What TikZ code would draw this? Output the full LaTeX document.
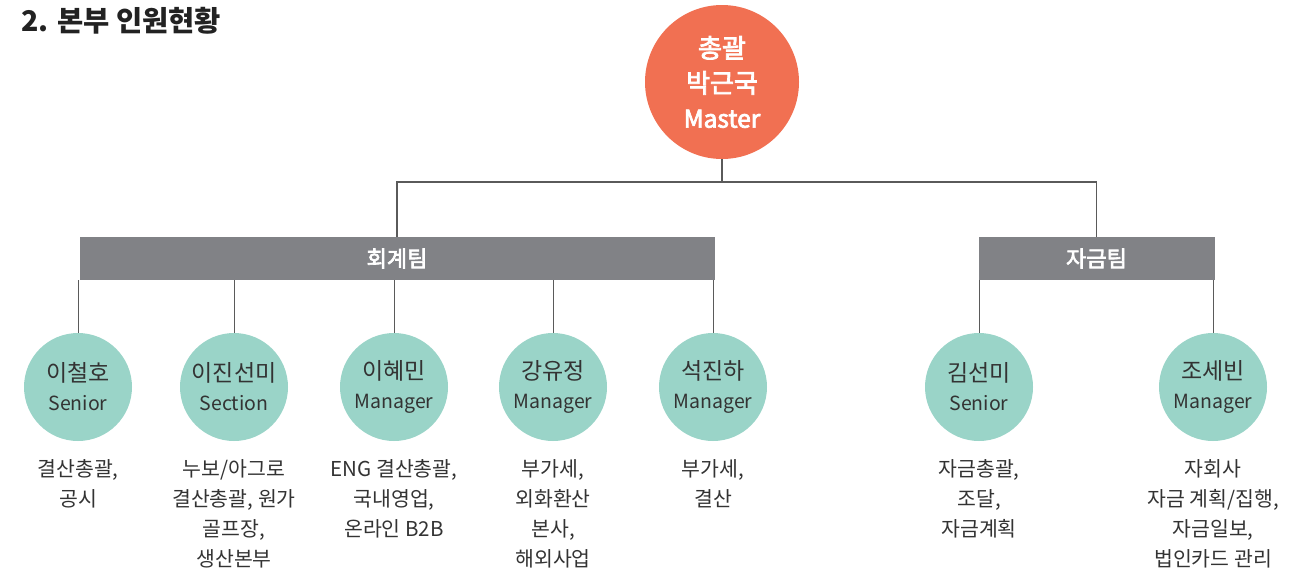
\documentclass[tikz,border=0pt]{standalone}
\usepackage{fontspec}
\setmainfont{Noto Sans CJK KR}
\newfontfamily\medfont{Noto Sans CJK KR}[FakeBold=3]
\definecolor{masterc}{HTML}{F17052}
\definecolor{memberc}{HTML}{9AD4C8}
\definecolor{teamgray}{HTML}{818286}
\definecolor{txt}{HTML}{333333}
\definecolor{titlec}{HTML}{222222}
\definecolor{linec}{HTML}{5A5A5A}
\begin{document}
\begin{tikzpicture}[x=1pt,y=-1pt,
  member/.style={circle,fill=memberc,minimum size=108pt,inner sep=0pt,align=center,text=txt,font=\fontsize{23}{29}\selectfont},
  team/.style={rectangle,fill=teamgray,minimum height=43pt,inner sep=0pt,text=white,font=\fontsize{22}{26}\medfont},
  desc/.style={anchor=north,align=center,text=txt,inner sep=0pt,font=\fontsize{20.5}{30}\selectfont},
  link/.style={draw=linec,line width=1.2pt}]
\useasboundingbox (0,0) rectangle (1316,576);
\node[anchor=north west,inner sep=0pt,text=titlec,font=\fontsize{28.5}{30}\selectfont\bfseries] (title) at (21,7) {2. 본부 인원현황};

\node[circle,fill=masterc,minimum size=154pt,inner sep=0pt,align=center,text=white,font=\fontsize{26}{35}\medfont] (master) at (722,82) {총괄\\박근국\\{\fontsize{24.5}{35}\selectfont Master}};

\node[team,minimum width=635pt] (hoe) at (397,258.5) {회계팀};
\node[team,minimum width=236pt] (jag) at (1096.5,258.5) {자금팀};

\coordinate (bus) at (722,182);
\draw[link] (master.south) -- (bus);
\draw[link] (hoe.north) |- (bus) -| (jag.north);

\node[member] (m1) at (78,387) {이철호\\{\fontsize{19.5}{29}\selectfont Senior}};
\node[member] (m2) at (234,387) {이진선미\\{\fontsize{19.5}{29}\selectfont Section}};
\node[member] (m3) at (394,387) {이혜민\\{\fontsize{19.5}{29}\selectfont Manager}};
\node[member] (m4) at (553,387) {강유정\\{\fontsize{19.5}{29}\selectfont Manager}};
\node[member] (m5) at (713,387) {석진하\\{\fontsize{19.5}{29}\selectfont Manager}};
\node[member] (m6) at (979,387) {김선미\\{\fontsize{19.5}{29}\selectfont Senior}};
\node[member] (m7) at (1213,387) {조세빈\\{\fontsize{19.5}{29}\selectfont Manager}};

\foreach \m in {m1,m2,m3,m4,m5}{\draw[link,line width=1pt] (\m |- hoe.south) -- (\m.north);}
\foreach \m in {m6,m7}{\draw[link,line width=1pt] (\m |- jag.south) -- (\m.north);}

\node[desc] (d1) at (78,459) {결산총괄,\\공시};
\node[desc] (d2) at (234,459) {누보/아그로\\결산총괄, 원가\\골프장,\\생산본부};
\node[desc] (d3) at (394,459) {ENG 결산총괄,\\국내영업,\\온라인 B2B};
\node[desc] (d4) at (553,459) {부가세,\\외화환산\\본사,\\해외사업};
\node[desc] (d5) at (713,459) {부가세,\\결산};
\node[desc] (d6) at (979,459) {자금총괄,\\조달,\\자금계획};
\node[desc] (d7) at (1213,459) {자회사\\자금 계획/집행,\\자금일보,\\법인카드 관리};
\end{tikzpicture}
\end{document}
